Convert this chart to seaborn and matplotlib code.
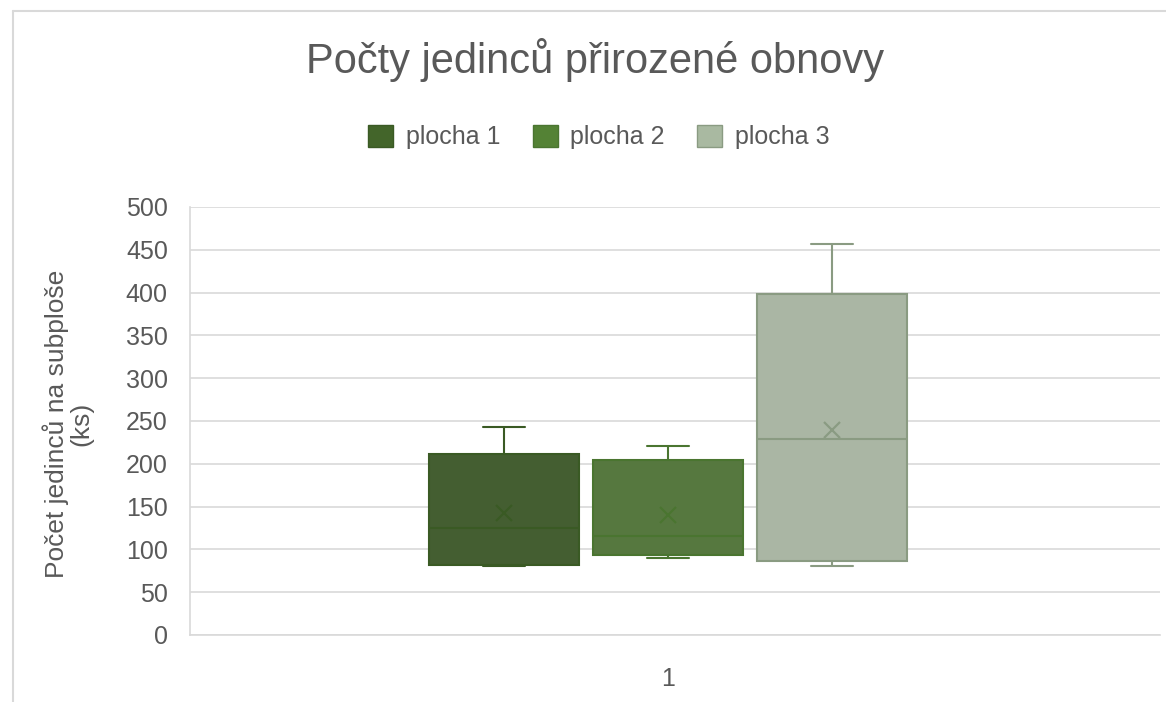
import pandas as pd
import numpy as np
import matplotlib
matplotlib.use("Agg")
import matplotlib.pyplot as plt
from matplotlib.patches import Patch
from matplotlib.lines import Line2D
import seaborn as sns

# data (five-number summary + mean per plot)
plochy = ["plocha 1", "plocha 2", "plocha 3"]
minima = [81, 90, 81]
q1 = [82, 93, 87]
medians = [125, 116, 229]
q3 = [211, 204, 398]
maxima = [243, 221, 457]
means = [142, 140, 240]
kategorie = "1"

fill_colors = ["#43652A", "#548235", "#A9B9A1"]
edge_colors = ["#3A5A24", "#4A7530", "#8A9B82"]
grey = "#595959"
grid_grey = "#D9D9D9"


def buildBoxDF():
    rows = []
    for i, p in enumerate(plochy):
        for v in (minima[i], q1[i], medians[i], q3[i], maxima[i]):
            rows.append({"kategorie": kategorie, "plocha": p, "hodnota": v})
    return pd.DataFrame(rows)


def buildMeanDF():
    return pd.DataFrame({"kategorie": [kategorie] * 3, "plocha": plochy, "prumer": means})


sns.set_style("white")
plt.rcParams["font.family"] = ["Liberation Sans", "DejaVu Sans"]

fig = plt.figure(figsize=(11.66, 7.02), dpi=100)
ax = fig.add_axes([190 / 1166, 1 - 635 / 702, 970 / 1166, 428 / 702])

box_df = buildBoxDF()
mean_df = buildMeanDF()

sns.boxplot(data=box_df, x="kategorie", y="hodnota", hue="plocha", hue_order=plochy,
            palette=fill_colors, whis=(0, 100), width=0.507, gap=0.085,
            linewidth=1.5, capwidths=0.043, legend=False, ax=ax)

# colour each box's lines like Excel does
for cont, ec in zip(ax.containers, edge_colors):
    for b in cont.boxes:
        b.set_edgecolor(ec)
    for grp in (cont.medians, cont.whiskers, cont.caps):
        for ln in grp:
            ln.set_color(ec)

sns.pointplot(data=mean_df, x="kategorie", y="prumer", hue="plocha", hue_order=plochy,
              palette=edge_colors, dodge=0.338, markers="x", linestyles="none",
              errorbar=None, markersize=12, markeredgewidth=1.6, legend=False, ax=ax)

ax.set_ylim(0, 500)
ax.set_xlim(-0.493, 0.507)
ax.set_yticks(np.arange(0, 501, 50))
ax.yaxis.grid(True, color=grid_grey, linewidth=1.2)
ax.set_axisbelow(True)
for s in ("top", "right"):
    ax.spines[s].set_visible(False)
for s in ("left", "bottom"):
    ax.spines[s].set_color(grid_grey)
    ax.spines[s].set_linewidth(1.2)
ax.tick_params(axis="y", length=0, pad=16, labelsize=18, labelcolor=grey)
ax.tick_params(axis="x", length=0, pad=23, labelsize=18, labelcolor=grey)
ax.set_xlabel("")
ax.set_ylabel("")

fig.text(595 / 1166, 1 - 60 / 702, "Počty jedinců přirozené obnovy",
         ha="center", va="center", fontsize=30, color=grey)
fig.text(68 / 1166, 1 - 424 / 702, "Počet jedinců na subploše\n(ks)",
         rotation=90, ha="center", va="center", multialignment="center",
         fontsize=19, color=grey, linespacing=1.0)

handles = [Patch(facecolor=f, edgecolor=e, label=p) for f, e, p in zip(fill_colors, edge_colors, plochy)]
fig.legend(handles=handles, loc="center", bbox_to_anchor=(599 / 1166, 1 - 137 / 702),
           ncol=3, frameon=False, fontsize=18, labelcolor=grey,
           handlelength=1.0, handleheight=1.0, handletextpad=0.5, columnspacing=1.3)

# chart area border (only top/left visible in the crop)
fig.add_artist(Line2D([13 / 1166, 1.0], [1 - 11 / 702] * 2, color=grid_grey, lw=1.5))
fig.add_artist(Line2D([13 / 1166] * 2, [0.0, 1 - 11 / 702], color=grid_grey, lw=1.5))

fig.savefig("out.png", dpi=100)
